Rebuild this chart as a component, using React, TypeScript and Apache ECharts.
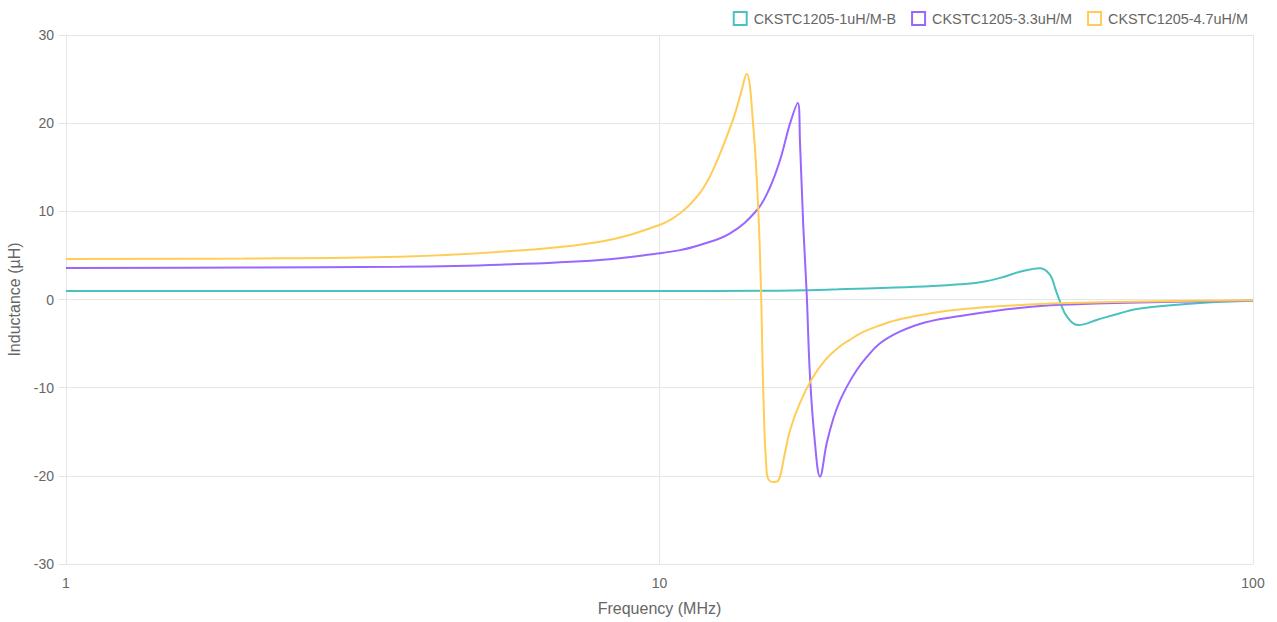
import React, { useEffect, useRef } from "react";
import * as echarts from "echarts";

const seriesNames = ["CKSTC1205-1uH/M-B", "CKSTC1205-3.3uH/M", "CKSTC1205-4.7uH/M"];
const seriesColors = ["#4bc0c0", "#9966ff", "#ffcd56"];

const freq1 = [1, 5, 10, 15, 20, 25, 28.9, 32, 34.7, 37.5, 40.5, 43.8, 45.5, 46.4, 47.3, 48.6, 50.8, 54.5, 59.7, 65, 81.4, 100];
const ind1 = [0.95, 0.95, 0.97, 1.0, 1.15, 1.35, 1.53, 1.72, 1.95, 2.45, 3.15, 3.55, 2.8, 1.3, -0.25, -1.95, -2.9, -2.33, -1.55, -1.0, -0.4, -0.15];

const freq33 = [1, 2, 3.65, 5.39, 7.94, 10, 10.83, 11.7, 13.15, 14.6, 15.3, 15.96, 16.6, 17.1, 17.25, 17.47, 17.7, 17.93, 18.28, 18.64, 19.13, 19.63, 20.1, 20.8, 21.5, 22.3, 23.5, 25.4, 28, 32.9, 40, 47.3, 70, 100];
const ind33 = [3.57, 3.62, 3.72, 3.95, 4.48, 5.24, 5.6, 6.18, 7.5, 10.15, 12.5, 15.8, 20.0, 22.3, 17.7, 8.26, 0.74, -8.75, -16.3, -20.1, -16.3, -13.5, -11.6, -9.6, -8.0, -6.6, -5.0, -3.65, -2.6, -1.76, -1.0, -0.6, -0.28, -0.12];

const freq47 = [1, 2, 3.65, 5.39, 7.94, 10, 10.83, 11.7, 12.31, 13.3, 13.7, 14.02, 14.39, 14.67, 14.83, 14.96, 15.16, 15.35, 15.6, 15.9, 16.2, 16.6, 17.25, 18.1, 19, 20.1, 20.9, 22, 23.5, 25.4, 29, 32.9, 40, 47.3, 70, 100];
const ind47 = [4.6, 4.65, 4.85, 5.42, 6.56, 8.45, 9.78, 12.1, 14.7, 20.4, 23.3, 25.6, 19.6, 10.15, 0.74, -10.6, -19.7, -20.6, -20.7, -20.4, -18, -14.8, -11.7, -8.9, -6.9, -5.35, -4.6, -3.7, -2.95, -2.25, -1.5, -1.05, -0.65, -0.43, -0.2, -0.08];

const xMin = 1;
const xMax = 100;
const yMin = -30;
const yMax = 30;
const yInterval = 10;

const xTitle = "Frequency (MHz)";
const yTitle = "Inductance (µH)";

function pairs(xs: number[], ys: number[]) {
  return xs.map((x, i) => [x, ys[i]]);
}

export default function App() {
  const ref = useRef<HTMLDivElement>(null);
  useEffect(() => {
    if (!ref.current) return;
    const chart = echarts.init(ref.current, undefined, { renderer: "svg" });
    const font = "'Liberation Sans', Arial, Helvetica, sans-serif";
    const grid = "#e6e6e6";
    const data = [pairs(freq1, ind1), pairs(freq33, ind33), pairs(freq47, ind47)];
    chart.setOption({
      animation: false,
      textStyle: { fontFamily: font },
      legend: {
        top: 6,
        right: 24,
        icon: "rect",
        itemWidth: 13,
        itemHeight: 13,
        itemGap: 15,
        textStyle: { color: "#666", fontSize: 14.4, fontFamily: font, padding: [0, 0, 0, 2] },
        data: seriesNames.map((n, i) => ({
          name: n,
          itemStyle: { color: "rgba(255,255,255,0)", borderColor: seriesColors[i], borderWidth: 2 },
        })),
      },
      grid: { left: 66, right: 24, top: 35, bottom: 58, outerBoundsMode: "none" },
      xAxis: {
        type: "log",
        logBase: 10,
        min: xMin,
        max: xMax,
        name: xTitle,
        nameLocation: "middle",
        nameGap: 36,
        nameTextStyle: { color: "#666", fontSize: 16, fontFamily: font },
        axisLine: { show: true, lineStyle: { color: grid } },
        axisTick: { show: true, length: 8, lineStyle: { color: grid } },
        axisLabel: { color: "#666", fontSize: 14, margin: 12, fontFamily: font },
        splitLine: { show: true, lineStyle: { color: grid } },
        minorTick: { show: false },
        minorSplitLine: { show: false },
      },
      yAxis: {
        type: "value",
        min: yMin,
        max: yMax,
        interval: yInterval,
        name: yTitle,
        nameLocation: "middle",
        nameGap: 42,
        nameTextStyle: { color: "#666", fontSize: 16, fontFamily: font },
        axisLine: { show: true, lineStyle: { color: grid } },
        axisTick: { show: true, length: 8, lineStyle: { color: grid } },
        axisLabel: { color: "#666", fontSize: 14, margin: 12, fontFamily: font },
        splitLine: { show: true, lineStyle: { color: grid } },
      },
      series: seriesNames.map((n, i) => ({
        name: n,
        type: "line",
        data: data[i],
        smooth: 0.4,
        showSymbol: false,
        symbol: "none",
        lineStyle: { color: seriesColors[i], width: 2 },
        itemStyle: { color: seriesColors[i] },
      })),
    });
    return () => chart.dispose();
  }, []);
  return (
    <div
      ref={ref}
      style={{ position: "fixed", left: 0, top: 0, width: 1277, height: 622, background: "#fff" }}
    />
  );
}
